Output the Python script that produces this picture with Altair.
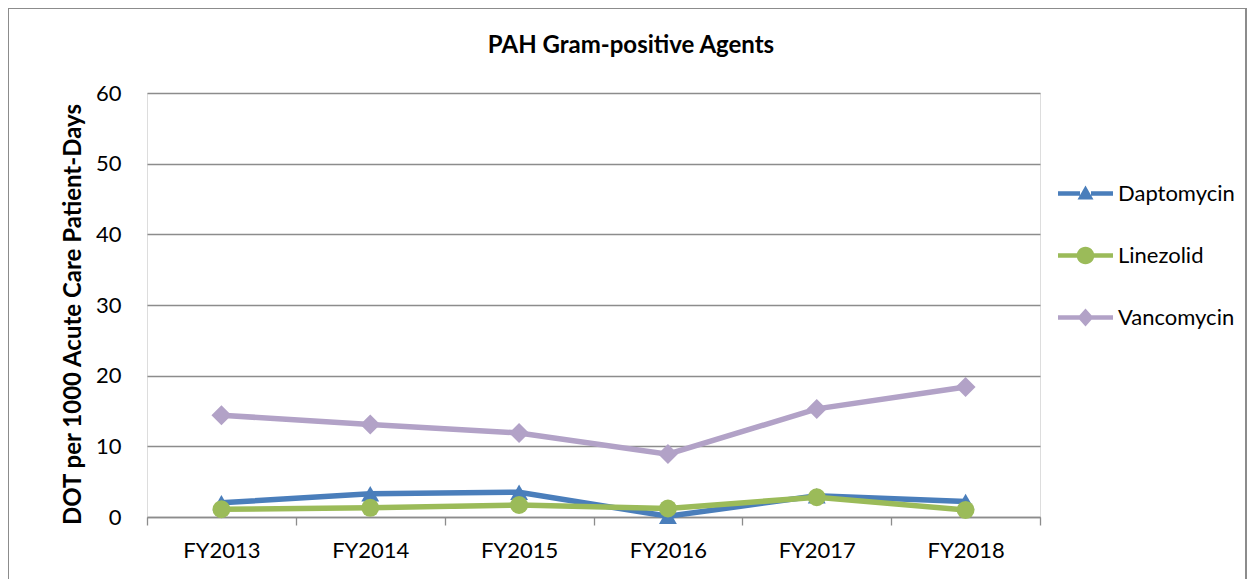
import altair as alt
import pandas as pd

title_text = "PAH Gram-positive Agents"
y_title = "DOT per 1000 Acute Care Patient-Days"
years = ["FY2013", "FY2014", "FY2015", "FY2016", "FY2017", "FY2018"]
series = ["Daptomycin", "Linezolid", "Vancomycin"]
daptomycin = [2.0, 3.3, 3.5, 0.1, 3.0, 2.2]
linezolid = [1.1, 1.3, 1.7, 1.2, 2.8, 1.0]
vancomycin = [14.4, 13.1, 11.9, 8.9, 15.3, 18.4]
colors = ["#4A7EBB", "#9BBB59", "#B2A2C7"]
shapes = ["triangle-up", "circle", "diamond"]
y_ticks = [0, 10, 20, 30, 40, 50, 60]

values = {"Daptomycin": daptomycin, "Linezolid": linezolid, "Vancomycin": vancomycin}
rows = []
for s in series:
    for yr, v in zip(years, values[s]):
        rows.append({"year": yr, "series": s, "value": v})
df = pd.DataFrame(rows)

FONT = "Lato"

# legend symbols: line segments on either side + marker (no overlap)
line_part = "M-1,-0.08L-0.2,-0.08L-0.2,0.08L-1,0.08Z M0.2,-0.08L1,-0.08L1,0.08L0.2,0.08Z"
leg_paths = [
    line_part + " M-0.29,0.22L0,-0.29L0.29,0.22Z",
    line_part + " M-0.32,0A0.32,0.32 0 1,1 0.32,0A0.32,0.32 0 1,1 -0.32,0Z",
    line_part + " M-0.29,0L0,-0.33L0.29,0L0,0.33Z",
]

x_enc = alt.X("year:N", sort=years,
              scale=alt.Scale(type="band", paddingInner=0, paddingOuter=0),
              axis=alt.Axis(title=None, tickBand="extent", labelAngle=0,
                            labelFontSize=22, labelFont=FONT, labelColor="black",
                            labelPadding=15, tickSize=8, tickColor="#8C8C8C",
                            tickWidth=1.3, domainColor="#8C8C8C", domainWidth=1.3,
                            grid=False))
y_enc = alt.Y("value:Q", scale=alt.Scale(domain=[0, 60], nice=False, zero=True),
              axis=alt.Axis(title=y_title,
                            values=y_ticks, domain=False, ticks=False,
                            labelFontSize=22, labelFont=FONT, labelColor="black",
                            labelPadding=26, grid=True, gridColor="#8C8C8C",
                            gridWidth=1.3, titleFont=FONT, titleFontSize=24,
                            titleFontWeight="bold", titleColor="black",
                            titleAngle=270, titleX=-67, titleY=221,
                            titleBaseline="alphabetic", titleAlign="center"))
color_scale = alt.Scale(domain=series, range=colors)

layers = []
border = alt.Chart(df).mark_rect(fill=None, stroke="#8C8C8C", strokeWidth=1.5).encode(
    x=alt.value(-139), x2=alt.value(1099), y=alt.value(-85), y2=alt.value(620)
)
layers.append(border)

title_layer = alt.Chart(pd.DataFrame({"t": [title_text]})).mark_text(
    font=FONT, fontSize=24, fontWeight="bold", color="black",
    align="center", baseline="alphabetic"
).encode(text="t:N", x=alt.value(484), y=alt.value(-40))
layers.append(title_layer)

sizes = {"triangle-up": 320, "circle": 320, "diamond": 400}
for s, shp in zip(series, shapes):
    base = alt.Chart(df).transform_filter(alt.datum.series == s)
    ln = base.mark_line(strokeWidth=5.5).encode(
        x=x_enc, y=y_enc,
        color=alt.Color("series:N", scale=color_scale, legend=None))
    pt = base.mark_point(shape=shp, filled=True, opacity=1, size=sizes[shp]).encode(
        x=x_enc, y=y_enc,
        color=alt.Color("series:N", scale=color_scale, legend=None))
    layers += [ln, pt]

leg = alt.Legend(title=None, orient="none", legendX=911, legendY=73,
                 symbolSize=3025, symbolOpacity=1, symbolStrokeWidth=0,
                 labelFont=FONT, labelFontSize=22, labelColor="black",
                 labelOffset=5, rowPadding=23, padding=0)
legend_layer = alt.Chart(df).mark_point(filled=True, opacity=0).encode(
    x=x_enc, y=y_enc,
    color=alt.Color("series:N", scale=color_scale, legend=leg),
    shape=alt.Shape("series:N", scale=alt.Scale(domain=series, range=leg_paths),
                    legend=leg),
)
layers.append(legend_layer)

chart = alt.layer(*layers).resolve_scale(
    color="independent", shape="independent"
).properties(
    width=893, height=424,
    padding={"left": 139, "top": 85, "right": 207, "bottom": 62},
    autosize=alt.AutoSizeParams(type="none"),
).configure_view(stroke=None).configure(background="white")

chart.save("out.html", embed_options={"renderer": "svg", "actions": False})
